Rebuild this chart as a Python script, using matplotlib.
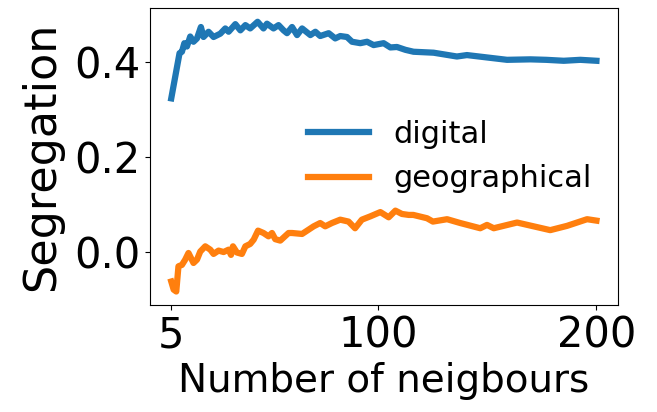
import matplotlib
matplotlib.use("Agg")
import matplotlib.pyplot as plt

# values
digital_x = [5, 6.8, 8.8, 9.9, 11, 12.2, 13.7, 15.2, 16.8, 18.6, 19.8, 22.1, 24.4,
             27.5, 29.8, 31.3, 34.4, 36.7, 39, 41.2, 44.6, 47.3, 48.9, 51.9, 54.2,
             56.5, 58.1, 60.4, 62.7, 65, 68.8, 71.1, 73.3, 77.2, 80.2, 82.5, 85.6,
             87.9, 91.7, 94.8, 97.8, 102.4, 105.5, 108.5, 112.4, 116.1, 125.3, 136,
             140.6, 149.8, 159, 169.7, 177, 185, 192.6, 200]
digital_y = [0.323, 0.368, 0.418, 0.421, 0.439, 0.432, 0.453, 0.442, 0.449, 0.473,
             0.452, 0.463, 0.452, 0.459, 0.470, 0.463, 0.479, 0.466, 0.477, 0.470,
             0.484, 0.470, 0.480, 0.470, 0.477, 0.466, 0.460, 0.473, 0.456, 0.470,
             0.456, 0.463, 0.454, 0.460, 0.449, 0.454, 0.452, 0.442, 0.439, 0.442,
             0.435, 0.439, 0.430, 0.431, 0.425, 0.421, 0.419, 0.411, 0.414, 0.409,
             0.404, 0.405, 0.404, 0.402, 0.404, 0.402]

geo_x = [5, 6.1, 7.3, 8.3, 9.9, 11.4, 12.9, 15.2, 16.8, 18.3, 20.6, 22.9, 24.4,
         26.7, 29, 31.3, 32.4, 33.3, 35.1, 37.4, 39, 41.2, 42.8, 44.8, 47.3, 49.6,
         51.2, 52.7, 55, 58.8, 60.4, 65, 70.3, 73.3, 75.6, 78.7, 82.5, 86.3, 89.3,
         92.4, 96.3, 100.9, 104.7, 107.8, 110.8, 113.9, 116, 122.3, 125, 131.5,
         137.5, 146.7, 149.8, 152.9, 163.6, 171.2, 178.8, 186.5, 195.7, 200]
geo_y = [-0.062, -0.079, -0.083, -0.030, -0.027, -0.016, -0.002, -0.023, -0.016,
         0.001, 0.012, 0.005, -0.004, 0.003, 0.000, 0.005, -0.006, 0.012, -0.001,
         -0.004, 0.012, 0.017, 0.026, 0.045, 0.040, 0.033, 0.040, 0.027, 0.024,
         0.040, 0.040, 0.038, 0.054, 0.061, 0.054, 0.061, 0.068, 0.064, 0.050,
         0.068, 0.075, 0.084, 0.073, 0.087, 0.080, 0.078, 0.078, 0.071, 0.064,
         0.069, 0.061, 0.050, 0.057, 0.050, 0.062, 0.054, 0.046, 0.055, 0.069,
         0.066]

x_ticks = [5, 100, 200]

fig = plt.figure(figsize=(6.57, 4.12), dpi=100)
ax = fig.add_axes([0.2283, 0.2597, 0.7119, 0.7202])

ax.plot(digital_x, digital_y, color="#1f77b4", lw=4.5, label="digital")
ax.plot(geo_x, geo_y, color="#ff7f0e", lw=4.5, label="geographical")

ax.set_xticks(x_ticks)
ax.set_yticks([0.0, 0.2, 0.4])
ax.tick_params(labelsize=30)
ax.set_xlabel("Number of neigbours", fontsize=28)
ax.set_ylabel("Segregation", fontsize=32, labelpad=8)

ax.legend(fontsize=22, frameon=False, loc="center",
          bbox_to_anchor=(0.642, 0.50))

fig.savefig("out.png", dpi=100)
